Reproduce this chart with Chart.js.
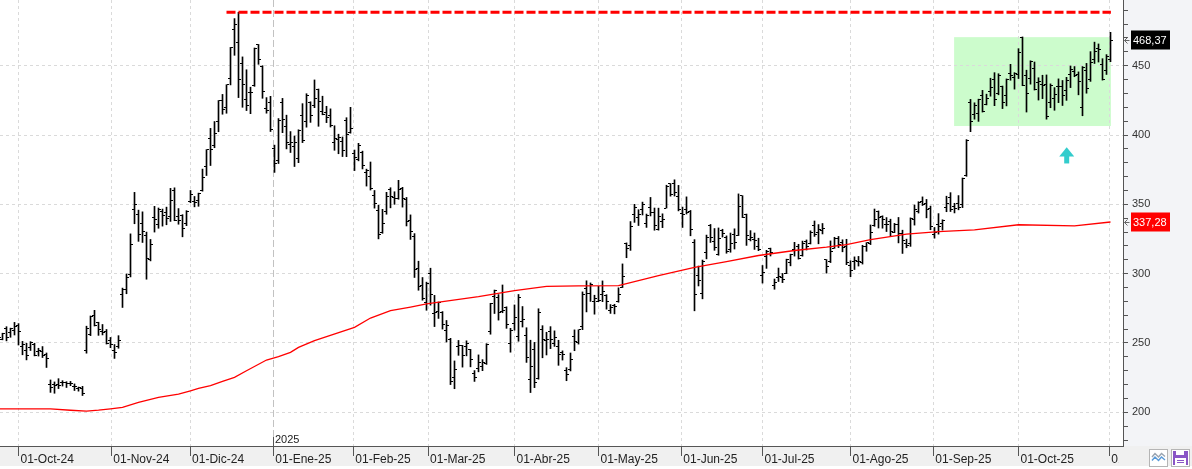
<!DOCTYPE html>
<html>
<head>
<meta charset="utf-8">
<script src="https://cdn.jsdelivr.net/npm/chart.js@4.4.1/dist/chart.umd.min.js"></script>
<style>
html,body{margin:0;padding:0;background:#fff;overflow:hidden}
canvas{display:block}
</style>
</head>
<body>
<canvas id="c" width="1192" height="469"></canvas>
<script>
// ---------- DATA ----------
const tradingDays = [
 ['2024-09',[24,25,26,27,30]],
 ['2024-10',[1,2,3,4,7,8,9,10,11,14,15,16,17,18,21,22,23,24,25,28,29,30,31]],
 ['2024-11',[1,4,5,6,7,8,11,12,13,14,15,18,19,20,21,22,25,26,27,29]],
 ['2024-12',[2,3,4,5,6,9,10,11,12,13,16,17,18,19,20,23,24,26,27,30,31]],
 ['2025-01',[2,3,6,7,8,10,13,14,15,16,17,21,22,23,24,27,28,29,30,31]],
 ['2025-02',[3,4,5,6,7,10,11,12,13,14,18,19,20,21,24,25,26,27,28]],
 ['2025-03',[3,4,5,6,7,10,11,12,13,14,17,18,19,20,21,24,25,26,27,28,31]],
 ['2025-04',[1,2,3,4,7,8,9,10,11,14,15,16,17,21,22,23,24,25,28,29,30]],
 ['2025-05',[1,2,5,6,7,8,9,12,13,14,15,16,19,20,21,22,23,27,28,29,30]],
 ['2025-06',[2,3,4,5,6,9,10,11,12,13,16,17,18,20,23,24,25,26,27,30]],
 ['2025-07',[1,2,3,7,8,9,10,11,14,15,16,17,18,21,22,23,24,25,28,29,30,31]],
 ['2025-08',[1,4,5,6,7,8,11,12,13,14,15,18,19,20,21,22,25,26,27,28,29]],
 ['2025-09',[2,3,4,5,8,9,10,11,12,15,16,17,18,19,22,23,24,25,26,29,30]],
 ['2025-10',[1,2,3,6,7,8,9,10,13,14,15,16,17,20,21,22,23,24,27,28,29,30,31]],
 ['2025-11',[3]]
];
const dates = [];
tradingDays.forEach(([m, days]) => days.forEach(d => dates.push(m + '-' + String(d).padStart(2,'0'))));

const open = [
 254.08,252.54,260.60,257.38,259.04,
 262.67,247.55,244.48,246.69,249.00,243.56,243.82,241.81,220.13,220.13,220.01,221.40,221.59,220.71,218.90,217.31,217.13,244.68,256.01,270.00,264.51,258.04,257.99,
 252.04,244.56,247.34,284.67,288.89,299.14,346.30,342.74,335.85,327.69,310.57,340.73,335.76,345.00,343.81,341.09,360.14,341.00,341.80,336.08,
 352.38,351.80,353.00,359.87,377.42,397.61,392.68,409.70,424.84,420.00,441.09,475.90,466.50,451.88,425.51,431.00,435.90,465.16,449.52,419.40,423.79,
 390.10,381.48,423.20,405.83,392.95,391.40,383.21,414.34,409.90,423.49,421.50,432.64,416.81,416.06,414.45,394.80,396.91,395.21,410.78,401.53,
 386.68,382.63,387.51,373.03,370.19,356.21,345.80,329.94,345.00,360.62,355.01,354.00,361.51,353.44,338.14,327.02,303.71,291.16,279.50,
 300.34,270.93,272.92,272.06,259.32,252.54,225.31,247.22,248.13,247.31,245.06,228.16,231.61,233.35,234.99,258.08,283.60,282.66,272.48,275.58,249.31,
 263.80,254.60,265.29,255.38,223.78,245.00,224.69,260.00,251.84,258.36,249.91,247.61,243.47,230.26,230.96,254.86,250.50,261.69,288.98,285.50,279.90,
 280.01,284.90,284.57,273.11,276.88,279.63,290.21,321.99,320.00,342.50,340.34,346.24,336.30,347.87,344.43,331.90,337.92,347.35,364.84,365.29,355.52,
 343.50,346.60,345.10,322.49,298.83,285.96,314.94,334.40,323.08,313.97,331.29,326.09,317.31,327.95,327.54,356.17,342.70,324.61,324.51,319.90,
 298.46,312.63,317.99,291.37,297.00,297.55,300.05,307.89,317.73,319.68,312.80,323.15,321.66,334.40,329.74,330.90,310.00,308.74,318.45,325.55,322.18,319.61,
 306.21,309.08,308.95,307.89,319.79,321.43,335.00,345.00,341.50,335.76,337.66,329.62,335.79,329.22,322.08,321.66,338.90,344.93,351.94,350.91,347.23,
 328.23,335.20,336.15,348.00,354.64,348.44,350.55,350.17,370.94,423.13,414.50,415.75,428.87,421.82,431.11,439.88,429.83,435.24,428.30,444.35,441.52,
 443.80,470.54,443.29,440.75,447.82,437.57,436.81,436.54,423.53,426.27,434.90,434.73,432.04,443.87,445.76,443.80,420.00,446.83,439.98,454.78,462.50,451.05,446.75,
 454.46
];
const high = [
 257.19,257.05,261.75,260.70,264.86,
 263.98,251.16,249.79,250.96,249.83,246.21,247.43,242.79,223.34,221.91,224.26,222.82,222.08,222.28,220.48,218.22,218.72,262.12,269.49,273.54,264.98,263.35,259.75,
 254.00,248.90,255.28,289.59,299.75,328.71,358.64,345.84,344.60,329.98,324.68,348.55,347.38,346.60,347.99,361.53,361.93,346.96,342.55,345.45,
 360.00,355.69,358.10,375.43,389.49,404.80,409.73,424.88,429.30,436.30,463.19,483.99,488.54,456.36,447.08,434.51,462.78,465.33,450.00,427.00,427.93,
 392.73,411.88,426.43,414.33,402.50,399.28,403.79,422.64,429.80,424.00,439.74,433.20,428.00,420.73,418.88,406.69,400.59,398.59,412.50,419.99,
 389.17,394.00,388.39,375.40,380.55,360.00,349.37,346.40,358.69,362.00,359.10,367.34,362.30,354.98,342.40,328.89,309.00,297.23,293.88,
 303.94,284.35,279.55,272.65,266.25,253.37,237.06,251.84,248.29,251.58,245.40,230.10,241.41,238.00,249.52,278.64,288.20,284.90,291.85,276.10,260.56,
 277.45,284.99,276.30,261.00,252.00,250.44,274.69,262.49,257.74,261.80,258.75,251.97,244.34,232.21,242.79,259.45,259.54,286.85,294.86,293.32,284.45,
 290.87,294.78,284.85,277.73,277.92,289.80,307.04,322.21,337.59,350.00,346.14,351.62,343.00,354.99,347.35,347.27,343.18,363.79,365.00,367.71,363.68,
 348.02,355.40,345.60,324.55,305.50,309.83,327.83,335.50,332.56,332.99,332.05,327.26,329.32,332.36,357.54,356.26,343.00,331.05,329.34,325.58,
 305.89,316.83,318.45,296.15,304.05,300.15,310.48,314.09,322.60,321.20,323.50,324.34,330.90,338.00,335.41,336.20,310.15,323.63,326.25,326.85,324.45,324.80,
 309.31,312.12,312.45,320.47,322.40,335.15,346.64,345.26,341.74,340.47,339.30,336.27,340.55,331.37,324.90,340.25,349.53,351.90,355.39,353.55,348.75,
 333.33,343.33,338.89,355.87,358.44,350.77,356.33,369.00,396.69,425.70,423.25,425.88,432.22,429.47,440.97,444.98,444.21,435.35,440.47,450.98,445.00,
 462.29,470.75,446.77,453.55,452.68,441.33,443.13,443.34,436.89,434.21,440.51,439.35,441.60,449.80,449.40,445.54,449.40,451.68,460.16,467.00,465.70,455.06,458.00,
 474.07
];
const low = [
 249.05,252.28,251.53,254.12,255.77,
 248.53,241.50,237.81,244.58,240.70,240.56,239.51,232.34,214.38,213.74,217.12,218.93,217.90,219.23,215.73,215.26,212.11,242.65,255.32,262.24,255.51,255.82,249.25,
 246.63,238.88,246.21,275.62,285.52,297.66,336.00,323.31,322.50,296.00,309.22,330.01,332.75,334.30,335.28,337.70,338.20,335.66,326.59,334.65,
 351.15,348.20,348.60,359.50,370.80,378.01,390.85,402.38,415.00,415.71,436.15,457.51,427.01,420.02,417.64,415.41,435.14,451.02,426.50,415.75,402.54,
 373.04,379.45,401.70,390.00,387.40,377.29,380.07,394.54,405.66,409.13,419.75,406.31,414.59,408.95,405.78,389.00,386.50,384.48,384.41,401.34,
 374.36,381.40,375.53,363.18,360.34,347.27,325.10,329.12,342.85,347.50,350.02,353.67,348.00,334.42,324.70,297.25,288.04,280.88,273.60,
 277.30,261.84,267.71,260.02,250.73,220.00,217.02,241.10,232.60,240.73,232.80,222.28,229.20,230.05,234.55,256.33,271.28,266.51,271.82,260.57,243.36,
 259.25,251.27,261.51,236.00,214.25,217.80,223.88,239.33,241.36,245.93,247.54,233.89,237.68,222.79,229.85,244.43,249.20,259.63,272.42,280.00,270.78,
 279.81,279.81,274.40,271.35,271.00,279.41,290.00,311.50,316.80,337.00,334.72,342.33,333.37,341.63,331.33,331.39,333.21,347.32,355.91,356.00,345.29,
 333.33,343.04,327.33,273.21,291.14,281.85,310.67,322.50,316.86,313.30,326.41,314.74,315.45,317.78,327.48,340.44,320.40,323.61,317.50,316.60,
 293.21,303.82,312.76,288.77,294.35,293.55,300.00,305.65,312.67,310.50,312.62,317.06,321.42,326.88,321.55,328.67,300.41,308.01,318.25,318.81,315.78,306.50,
 297.82,303.00,305.50,306.93,316.16,320.98,334.15,332.94,332.80,330.40,327.02,329.59,322.20,314.60,318.68,319.69,335.03,343.72,349.16,340.26,331.70,
 325.60,328.51,331.48,344.68,344.84,343.82,346.07,347.66,370.24,402.43,411.43,409.85,416.56,421.72,428.02,421.17,429.03,419.08,421.02,439.50,433.12,
 440.75,435.57,416.58,436.69,432.45,425.23,426.26,411.45,419.70,417.86,423.37,421.31,425.00,434.21,442.05,429.00,413.90,430.17,438.69,451.60,452.65,439.61,443.69,
 452.91
];
const close = [
 254.27,257.02,254.22,260.46,261.63,
 258.02,249.02,240.66,250.08,240.83,244.50,241.05,238.77,217.80,219.16,219.57,221.33,220.89,220.70,218.85,217.97,213.65,260.48,269.19,262.51,259.52,257.55,249.85,
 248.98,242.84,251.44,288.53,296.91,321.22,350.00,328.49,330.24,311.18,320.72,338.74,346.00,342.03,339.64,352.56,338.59,338.23,332.89,345.16,
 357.09,351.42,357.93,369.49,389.22,389.79,400.99,424.77,418.10,436.23,463.02,479.86,440.13,436.17,421.06,430.60,462.28,454.13,431.66,417.41,403.84,
 379.28,410.44,411.05,394.36,394.94,394.74,403.31,396.36,428.22,413.82,426.50,424.07,415.11,412.38,406.58,397.15,398.09,389.10,400.28,404.60,
 383.68,392.21,378.17,374.32,361.62,350.73,328.50,336.51,355.94,355.84,354.11,360.56,354.40,337.80,330.53,302.80,290.80,281.95,292.98,
 284.65,272.04,279.10,263.45,262.67,222.15,230.58,248.09,240.68,249.98,238.01,225.31,235.86,236.26,248.71,278.39,288.14,272.06,273.13,263.55,259.16,
 268.46,282.76,267.28,239.43,233.29,221.86,272.20,252.40,252.31,252.35,254.11,241.55,241.37,227.50,237.97,250.74,259.51,284.95,285.88,292.03,282.16,
 280.52,287.21,280.26,275.35,276.22,284.82,298.26,318.38,334.07,347.68,342.82,349.98,342.09,343.82,334.62,341.04,339.34,362.89,356.90,358.43,346.46,
 342.69,344.27,332.05,284.70,295.14,308.58,326.09,326.43,319.11,325.31,329.13,316.35,322.05,322.16,348.68,340.47,327.55,325.78,323.63,317.66,
 300.71,315.65,315.35,293.94,297.81,295.88,309.87,313.51,316.90,310.78,321.67,319.41,329.65,328.49,332.11,332.56,305.30,316.06,325.59,321.20,319.04,308.27,
 302.63,309.26,308.72,319.91,322.27,329.65,339.03,340.84,339.38,335.58,330.56,335.16,329.31,323.90,320.11,340.01,346.60,351.67,349.60,345.98,333.87,
 329.36,334.09,338.53,350.84,346.40,346.97,347.79,368.81,395.94,410.04,421.62,425.86,416.85,426.07,434.21,425.85,442.79,423.39,440.40,443.21,444.72,
 459.46,436.00,429.83,453.25,433.09,438.69,435.54,413.49,435.90,429.24,435.15,428.75,439.31,447.43,442.60,438.97,448.98,433.72,452.42,460.55,461.51,440.10,456.56,
 468.37
];

// 200-session moving average (bar index -> value)
const smaIdx = [0,13,18,22,25,28,31,35,40,45,48,50,53,56,59,62,67,70,73,75,79,89,93,98,103,107,120,129,137,145,155,165,174,182,190,199,207,212,218,227,235,244,255,269,278];
const smaVal = [202.5,202.5,201.5,200.9,201.6,202.5,203.5,207.1,210.7,213.1,215.5,217.2,219.2,222.3,225.2,230.0,237.7,240.1,243.2,246.8,251.7,261.3,268.0,273.3,275.9,278.2,283.5,287.8,290.9,291.2,291.4,298.6,304.6,308.7,313.1,316.7,319.1,321.0,324.5,328.5,330.4,331.6,335.3,334.5,337.28];

// x-axis month ticks (bar index where the month starts) and labels
const monthTickIdx = [5,28.2,47.9,68.7,88.7,107.4,129,150,170.7,191,213,233.7,255,277.7];
const monthLabels = ['01-Oct-24','01-Nov-24','01-Dic-24','01-Ene-25','01-Feb-25','01-Mar-25','01-Abr-25','01-May-25','01-Jun-25','01-Jul-25','01-Ago-25','01-Sep-25','01-Oct-25','01-Nov-25'];
const yearMarkTick = 3;           // index in monthTickIdx of the year change
const yearLabel = '2025';

// y-axis ticks (minor every 10, labelled every 50)
const yTickValues = [180,190,200,210,220,230,240,250,260,270,280,290,300,310,320,330,340,350,360,370,380,390,400,410,420,430,440,450,460,470,480,490];
const yLabelStep = 50;

// annotations (data space)
const resistanceLevel = 488.54;
const resistanceFrom = 57, resistanceTo = 278.1;
const boxFrom = 238.9, boxTo = 278.1, boxLow = 406.5, boxHigh = 470.6;
const arrowIdx = 267.05, arrowTip = 391.1, arrowBase = 384.6, arrowTail = 379.5;
const smaLast = 337.28;

// ---------- CHART ----------
const FONT = '"Liberation Sans", Arial, sans-serif';
const ohlcBars = dates.map((d, i) => ({x: i, y: [low[i], high[i]]}));
const openPts = dates.map((d, i) => ({x: i, y: open[i]}));
const closePts = dates.map((d, i) => ({x: i, y: close[i]}));
const smaPts = smaIdx.map((x, k) => ({x: x, y: smaVal[k]}));
const lastIdx = dates.length - 1;

function tickImage(side) {
  const c = document.createElement('canvas');
  c.width = 5; c.height = 1;
  const g = c.getContext('2d');
  g.fillStyle = '#000';
  if (side === 'left') g.fillRect(0, 0, 2, 1); else g.fillRect(3, 0, 2, 1);
  return c;
}
const fmt = v => v.toFixed(2).replace('.', ',');

const decor = {
  id: 'decor',
  beforeDraw(chart) {
    const {ctx, chartArea: a, scales: {x, y}} = chart;
    const W = chart.width, H = chart.height;
    ctx.save();
    ctx.fillStyle = '#ffffff'; ctx.fillRect(0, 0, W, H);
    ctx.fillStyle = '#f3f4f7'; ctx.fillRect(a.right, 0, W - a.right, a.bottom);
    ctx.fillStyle = '#f0f0f0'; ctx.fillRect(0, a.bottom, W, 20);
    // green consolidation box
    const bx1 = x.getPixelForValue(boxFrom), bx2 = x.getPixelForValue(boxTo);
    const by1 = y.getPixelForValue(boxHigh), by2 = y.getPixelForValue(boxLow);
    ctx.fillStyle = 'rgb(204,252,204)';
    ctx.fillRect(bx1, by1, bx2 - bx1, by2 - by1);
    ctx.restore();
  },
  afterDatasetsDraw(chart) {
    const {ctx, scales: {x, y}} = chart;
    ctx.save();
    const ax = x.getPixelForValue(arrowIdx);
    const yt = y.getPixelForValue(arrowTip), yb = y.getPixelForValue(arrowBase), ye = y.getPixelForValue(arrowTail);
    ctx.fillStyle = '#33cccc';
    ctx.beginPath();
    ctx.moveTo(ax, yt); ctx.lineTo(ax + 7.5, yb); ctx.lineTo(ax - 7.5, yb); ctx.closePath(); ctx.fill();
    ctx.fillRect(ax - 2.5, yb - 0.5, 5, ye - yb + 0.5);
    ctx.restore();
  },
  afterDraw(chart) {
    const {ctx, chartArea: a, scales: {x, y}} = chart;
    ctx.save();
    // year marker
    const yx = Math.round(x.getPixelForValue(monthTickIdx[yearMarkTick])) + 0.5;
    ctx.strokeStyle = '#555'; ctx.lineWidth = 1;
    ctx.beginPath(); ctx.moveTo(yx, a.bottom - 9); ctx.lineTo(yx, a.bottom); ctx.stroke();
    ctx.fillStyle = '#222'; ctx.font = '11px ' + FONT; ctx.textAlign = 'left'; ctx.textBaseline = 'alphabetic';
    ctx.fillText(yearLabel, yx + 1.5, a.bottom - 3);
    // partially visible 500 label at the very top
    ctx.fillStyle = '#333'; ctx.textBaseline = 'middle';
    ctx.fillText('500', a.right + 9, y.getPixelForValue(500));
    // mask the right end of the date strip
    ctx.fillStyle = '#f0f0f0'; ctx.fillRect(1119, a.bottom + 1, chart.width - 1119, 19);
    // price tags
    const tag = (v, bg) => {
      const py = y.getPixelForValue(v);
      const top = Math.round(py) - 9.5;
      ctx.fillStyle = bg; ctx.fillRect(a.right + 8, top, 39, 19);
      ctx.fillStyle = '#ffffff'; ctx.font = '11px ' + FONT; ctx.textBaseline = 'middle'; ctx.textAlign = 'left';
      ctx.fillText(fmt(v), a.right + 10, top + 10);
      ctx.strokeStyle = '#666'; ctx.lineWidth = 1;
      const ay = Math.round(py) + 0.5;
      ctx.beginPath();
      ctx.moveTo(a.right + 1.5, ay); ctx.lineTo(a.right + 6.5, ay);
      ctx.moveTo(a.right + 4.5, ay - 3); ctx.lineTo(a.right + 1.5, ay); ctx.lineTo(a.right + 4.5, ay + 3);
      ctx.stroke();
    };
    tag(close[lastIdx], '#000000');
    tag(smaLast, '#ff0000');
    // toolbar icons (bottom right)
    ctx.fillStyle = '#ffffff'; ctx.strokeStyle = '#b5b5b5'; ctx.lineWidth = 1;
    ctx.fillRect(1149.5, 449.5, 18, 17); ctx.strokeRect(1149.5, 449.5, 18, 17);
    ctx.fillRect(1171.5, 449.5, 18, 17); ctx.strokeRect(1171.5, 449.5, 18, 17);
    ctx.lineWidth = 1.4;
    ctx.strokeStyle = '#9aa4b0';
    ctx.beginPath(); ctx.moveTo(1152, 457); ctx.lineTo(1155, 453.5); ctx.lineTo(1158.5, 457); ctx.lineTo(1161.5, 453.5); ctx.lineTo(1165, 456.5); ctx.stroke();
    ctx.strokeStyle = '#5a9ad8';
    ctx.beginPath(); ctx.moveTo(1152, 460.5); ctx.lineTo(1155, 457); ctx.lineTo(1158.5, 460.5); ctx.lineTo(1161.5, 457); ctx.lineTo(1165, 460); ctx.stroke();
    ctx.fillStyle = '#8a56c6'; ctx.fillRect(1173, 451, 15, 14);
    ctx.fillStyle = '#ffffff'; ctx.fillRect(1176, 451, 8, 4); ctx.fillRect(1175, 458, 11, 7);
    ctx.fillStyle = '#8a56c6'; ctx.fillRect(1177, 460, 7, 1); ctx.fillRect(1177, 462, 7, 1);
    ctx.restore();
  }
};

Chart.defaults.font.family = FONT;
new Chart(document.getElementById('c'), {
  type: 'bar',
  data: {
    datasets: [
      { type: 'line', label: 'Resistencia', data: [{x: resistanceFrom, y: resistanceLevel}, {x: resistanceTo, y: resistanceLevel}],
        borderColor: '#ff0000', borderWidth: 3, borderDash: [9, 3], pointRadius: 0, order: 0 },
      { type: 'line', label: 'Media 200', data: smaPts, borderColor: '#ff0000', borderWidth: 1.3,
        pointRadius: 0, tension: 0, order: 1 },
      { type: 'line', label: 'Apertura', data: openPts, showLine: false, pointStyle: tickImage('left'),
        pointRadius: 1, pointHoverRadius: 1, order: 2 },
      { type: 'line', label: 'Cierre', data: closePts, showLine: false, pointStyle: tickImage('right'),
        pointRadius: 1, pointHoverRadius: 1, order: 2 },
      { type: 'bar', label: 'Rango', data: ohlcBars, backgroundColor: '#000000', borderWidth: 0,
        barThickness: 1, grouped: false, order: 3 }
    ]
  },
  options: {
    responsive: false,
    animation: false,
    devicePixelRatio: 1,
    events: [],
    layout: { padding: 0, autoPadding: false },
    plugins: { legend: { display: false }, tooltip: { enabled: false } },
    scales: {
      x: {
        type: 'linear',
        position: 'bottom',
        min: 0.375, max: 281.125,
        offset: false,
        afterBuildTicks: s => { s.ticks = monthTickIdx.map(v => ({value: v})); },
        afterFit: s => { s.height = 23; s.paddingLeft = 0; s.paddingRight = 0; },
        grid: {
          offset: false,
          color: c => c.index === yearMarkTick ? '#c2c2c2' : '#dadada',
          lineWidth: 1,
          tickLength: 10,
          tickColor: '#555',
          tickBorderDash: [],
          drawTicks: true
        },
        border: { display: true, color: '#555', width: 1,
          dash: c => c.index === yearMarkTick ? [7, 3] : [3, 3] },
        ticks: {
          autoSkip: false, maxRotation: 0, minRotation: 0,
          align: 'start', labelOffset: 2, padding: -4,
          color: '#222', font: { size: 12, family: FONT },
          callback: (v, i) => monthLabels[i]
        }
      },
      y: {
        type: 'linear',
        position: 'right',
        min: 175.7, max: 497.4,
        afterBuildTicks: s => { s.ticks = yTickValues.map(v => ({value: v})); },
        afterFit: s => { s.width = 69; s.paddingTop = 0; s.paddingBottom = 0; },
        grid: {
          color: c => (c.tick && Math.round(c.tick.value) % yLabelStep === 0) ? '#dadada' : 'rgba(0,0,0,0)',
          lineWidth: 1,
          tickLength: 5,
          tickColor: '#555',
          tickBorderDash: []
        },
        border: { display: true, color: '#555', width: 1, dash: [3, 3] },
        ticks: {
          autoSkip: false, padding: 4,
          color: '#333', font: { size: 11, family: FONT },
          callback: v => (Math.round(v) % yLabelStep === 0) ? String(Math.round(v)) : ''
        }
      }
    }
  },
  plugins: [decor]
});
</script>
</body>
</html>
